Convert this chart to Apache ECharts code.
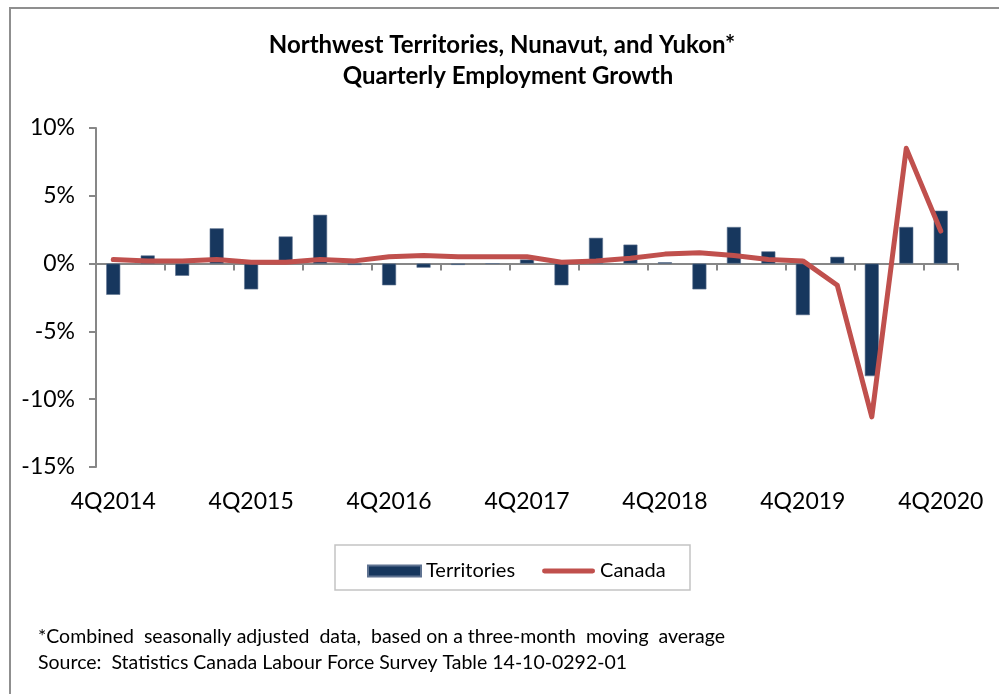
<!DOCTYPE html>
<html>
<head>
<meta charset="utf-8">
<title>Quarterly Employment Growth</title>
<script src="https://cdn.jsdelivr.net/npm/echarts@6/dist/echarts.min.js"></script>
<style>
  html, body { margin: 0; padding: 0; background: #ffffff; }
  #chart { width: 999px; height: 694px; }
</style>
</head>
<body>
<div id="chart"></div>
<script>
// data
const quarters = ['4Q2014', '1Q2015', '2Q2015', '3Q2015', '4Q2015', '1Q2016', '2Q2016', '3Q2016',
  '4Q2016', '1Q2017', '2Q2017', '3Q2017', '4Q2017', '1Q2018', '2Q2018', '3Q2018', '4Q2018',
  '1Q2019', '2Q2019', '3Q2019', '4Q2019', '1Q2020', '2Q2020', '3Q2020', '4Q2020'];
const territories = [-2.3, 0.6, -0.9, 2.6, -1.9, 2.0, 3.6, -0.1, -1.6, -0.3, -0.1, 0.0, 0.3,
  -1.6, 1.9, 1.4, 0.1, -1.9, 2.7, 0.9, -3.8, 0.5, -8.3, 2.7, 3.9];
const canada = [0.3, 0.2, 0.2, 0.3, 0.1, 0.1, 0.3, 0.2, 0.5, 0.6, 0.5, 0.5, 0.5,
  0.1, 0.2, 0.4, 0.7, 0.8, 0.6, 0.3, 0.2, -1.6, -11.3, 8.5, 2.4];
const titleLines = ['Northwest Territories, Nunavut, and Yukon*', 'Quarterly Employment Growth'];
const footnotes = [
  '*Combined  seasonally adjusted  data,  based on a three-month  moving  average',
  'Source:  Statistics Canada Labour Force Survey Table 14-10-0292-01'
];

const FONT = 'Lato, "Open Sans", sans-serif';
const AXIS_GREY = '#878787';
const BAR_BLUE = '#17375e';
const LINE_RED = '#c0504d';

// thick rounded bar used as the legend icon of the line series
const LINE_ICON = 'path://M2.5,0 L51.5,0 A2.5,2.5 0 0 1 51.5,5 L2.5,5 A2.5,2.5 0 0 1 2.5,0 Z';

const chart = echarts.init(document.getElementById('chart'));

chart.setOption({
  backgroundColor: '#ffffff',
  animation: false,
  legend: {
    data: [
      { name: 'Territories', icon: 'rect' },
      { name: 'Canada', icon: LINE_ICON }
    ],
    left: 362,
    top: 556,
    itemWidth: 53,
    itemHeight: 11,
    itemGap: 27,
    textStyle: { fontFamily: FONT, fontSize: 20, color: '#000000' }
  },
  grid: {
    left: 96,
    right: 41,
    top: 128,
    bottom: 227
  },
  xAxis: [
    {
      // zero line with ticks between categories
      type: 'category',
      data: quarters,
      position: 'bottom',
      axisLine: { onZero: true, lineStyle: { color: AXIS_GREY, width: 2 } },
      axisTick: { show: true, length: 7, lineStyle: { color: AXIS_GREY, width: 2 } },
      axisLabel: { show: false }
    },
    {
      // labels along the bottom of the plot
      type: 'category',
      data: quarters,
      position: 'bottom',
      axisLine: { show: false, onZero: false },
      axisTick: { show: false },
      axisLabel: {
        interval: 3,
        margin: 23,
        fontFamily: FONT,
        fontSize: 23,
        color: '#000000'
      }
    }
  ],
  yAxis: {
    type: 'value',
    min: -15,
    max: 10,
    interval: 5,
    axisLine: { show: true, lineStyle: { color: AXIS_GREY, width: 2 } },
    axisTick: { show: true, length: 7, lineStyle: { color: AXIS_GREY, width: 2 } },
    splitLine: { show: false },
    axisLabel: {
      margin: 21,
      formatter: '{value}%',
      fontFamily: FONT,
      fontSize: 23,
      color: '#000000'
    }
  },
  series: [
    {
      name: 'Territories',
      type: 'bar',
      xAxisIndex: 0,
      data: territories,
      barWidth: 14,
      itemStyle: { color: BAR_BLUE, borderColor: '#5f7391', borderWidth: 0.6 }
    },
    {
      name: 'Canada',
      type: 'line',
      xAxisIndex: 0,
      data: canada,
      symbol: 'none',
      smooth: false,
      lineStyle: { color: LINE_RED, width: 5, join: 'round', cap: 'round' },
      itemStyle: { color: LINE_RED }
    }
  ],
  graphic: [
    {
      // outer frame
      type: 'rect',
      shape: { x: 10, y: 8, width: 1000, height: 700 },
      style: { fill: 'none', stroke: '#8f8f8f', lineWidth: 2 },
      silent: true
    },
    {
      // legend box
      type: 'rect',
      shape: { x: 335, y: 545, width: 355, height: 45 },
      style: { fill: 'none', stroke: '#c3c3c3', lineWidth: 1.5 },
      silent: true
    },
    {
      type: 'text',
      x: 502,
      y: 45,
      style: {
        text: titleLines[0], fontFamily: FONT, fontSize: 24, fontWeight: 'bold',
        fill: '#000000', align: 'center', verticalAlign: 'middle'
      }
    },
    {
      type: 'text',
      x: 508,
      y: 76,
      style: {
        text: titleLines[1], fontFamily: FONT, fontSize: 24, fontWeight: 'bold',
        fill: '#000000', align: 'center', verticalAlign: 'middle'
      }
    },
    {
      type: 'text',
      x: 38,
      y: 637,
      style: { text: footnotes[0], fontFamily: FONT, fontSize: 19.5, fill: '#000000', verticalAlign: 'middle' }
    },
    {
      type: 'text',
      x: 38,
      y: 663,
      style: { text: footnotes[1], fontFamily: FONT, fontSize: 19.5, fill: '#000000', verticalAlign: 'middle' }
    }
  ]
});

window.addEventListener('resize', () => chart.resize());
</script>
</body>
</html>
